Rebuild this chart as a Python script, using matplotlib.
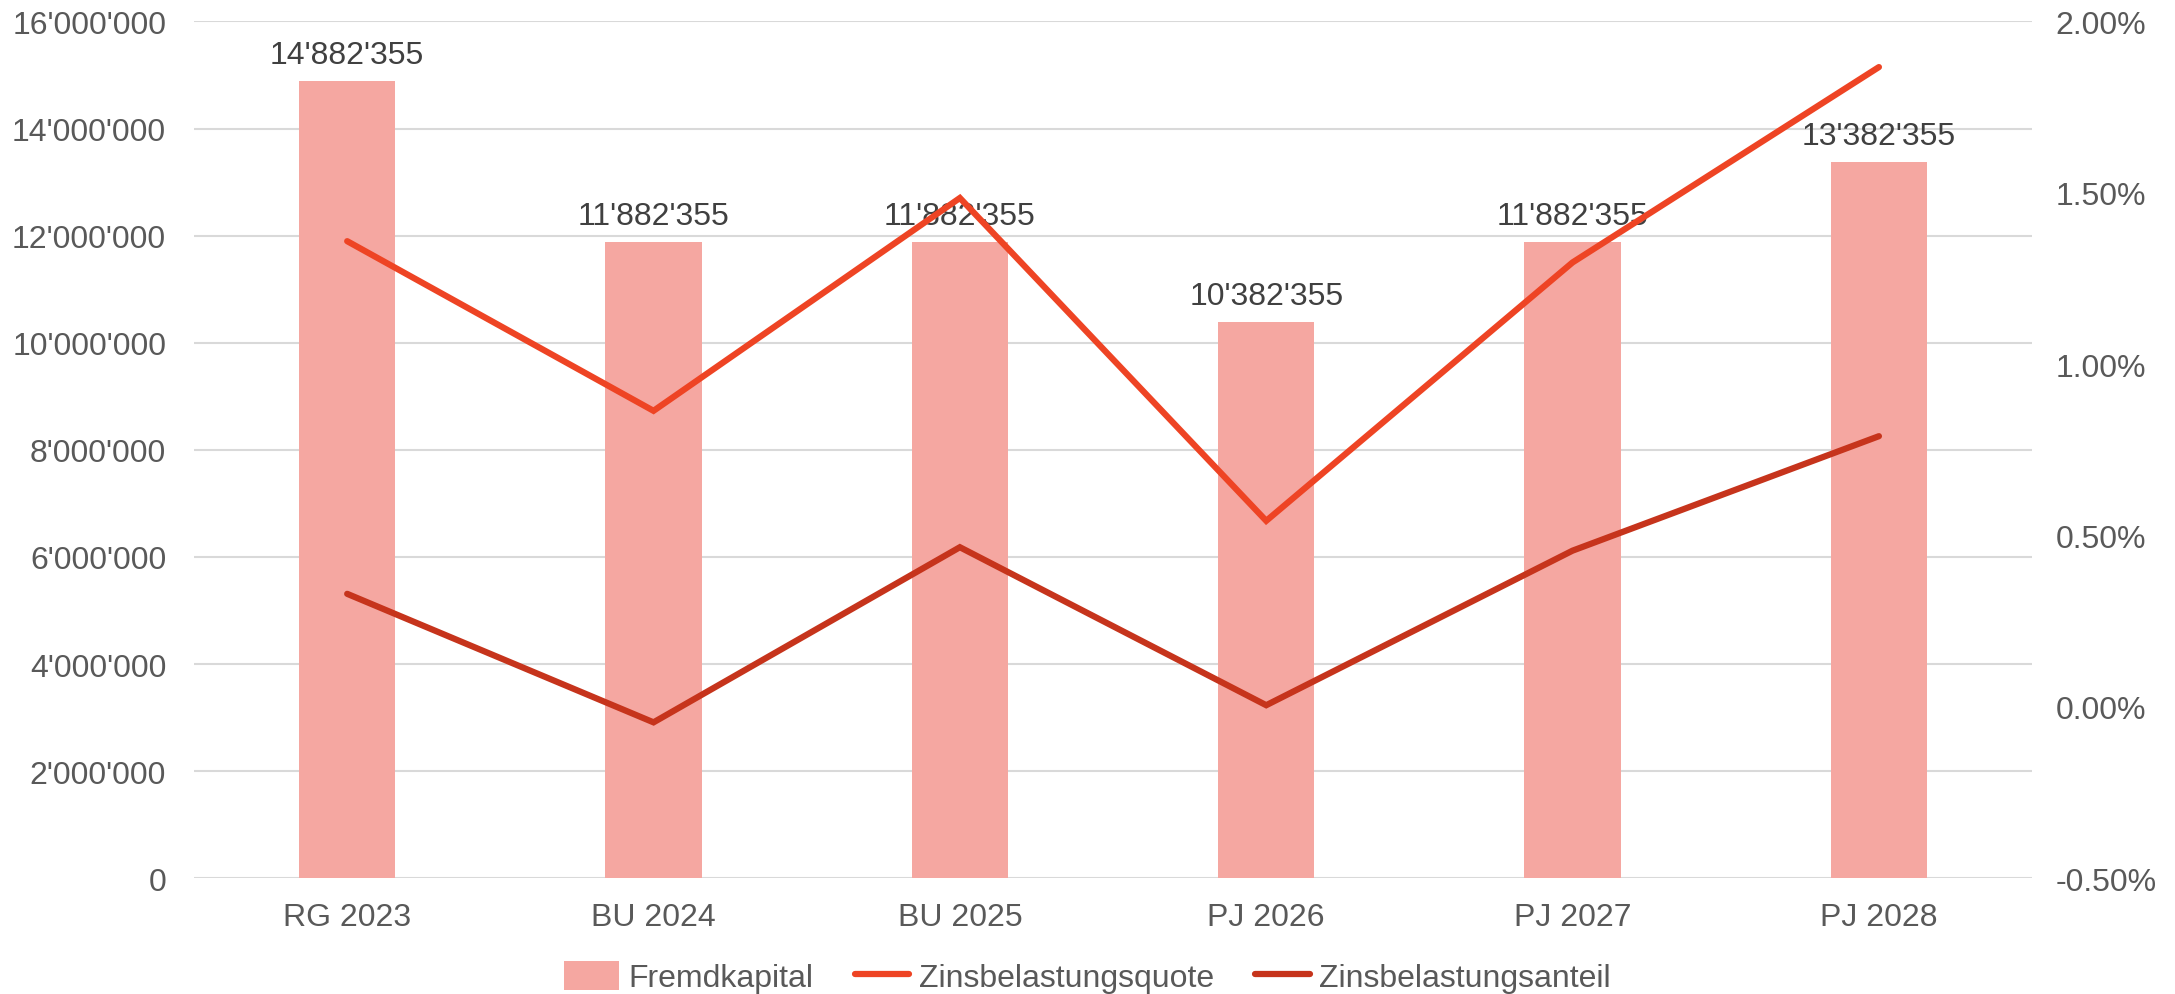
import matplotlib
matplotlib.use("Agg")
import matplotlib.pyplot as plt
from matplotlib.ticker import FuncFormatter, MultipleLocator

categories = ["RG 2023", "BU 2024", "BU 2025", "PJ 2026", "PJ 2027", "PJ 2028"]
fremdkapital = [14882355, 11882355, 11882355, 10382355, 11882355, 13382355]
zins_quote = [1.359, 0.864, 1.485, 0.543, 1.297, 1.867]      # percent
zins_anteil = [0.330, -0.045, 0.466, 0.005, 0.456, 0.790]    # percent

BAR_COLOR = "#F5A7A1"
QUOTE_COLOR = "#EE4424"
ANTEIL_COLOR = "#C6341C"
TEXT_COLOR = "#595959"
LABEL_COLOR = "#404040"
GRID_COLOR = "#D9D9D9"
FS = 23


def swiss(v):
    return f"{v:,.0f}".replace(",", "'")


plt.rcParams['font.family'] = ['Liberation Sans', 'DejaVu Sans']
plt.rcParams['font.size'] = FS

fig = plt.figure(figsize=(21.75, 9.95), dpi=100)
ax = fig.add_axes([0.0892, 0.1163, 0.9343 - 0.0892, 0.9774 - 0.1163])
ax2 = ax.twinx()

x = list(range(len(categories)))
bars = ax.bar(x, fremdkapital, width=0.315, color=BAR_COLOR, zorder=2, label="Fremdkapital")
for xi, v in zip(x, fremdkapital):
    ax.annotate(swiss(v), (xi, v), xytext=(0, 8), textcoords="offset points",
                ha="center", va="bottom", color=LABEL_COLOR, fontsize=FS)

ax.set_xlim(-0.5, len(categories) - 0.5)
ax.set_ylim(0, 16000000)
ax.yaxis.set_major_locator(MultipleLocator(2000000))
ax.yaxis.set_major_formatter(FuncFormatter(lambda v, p: swiss(v)))
ax.set_xticks(x)
ax.set_xticklabels(categories)
ax.grid(axis="y", color=GRID_COLOR, linewidth=1.5, zorder=0)
ax.set_axisbelow(True)

l1, = ax2.plot(x, zins_quote, color=QUOTE_COLOR, lw=4.5, solid_capstyle="round",
               solid_joinstyle="miter", label="Zinsbelastungsquote", zorder=3)
l2, = ax2.plot(x, zins_anteil, color=ANTEIL_COLOR, lw=4.5, solid_capstyle="round",
               solid_joinstyle="miter", label="Zinsbelastungsanteil", zorder=3)
ax2.set_ylim(-0.5, 2.0)
ax2.yaxis.set_major_locator(MultipleLocator(0.5))
ax2.yaxis.set_major_formatter(FuncFormatter(lambda v, p: f"{v:.2f}%"))

for a in (ax, ax2):
    for s in a.spines.values():
        s.set_visible(False)
    a.tick_params(length=0, colors=TEXT_COLOR, labelsize=FS)
ax.tick_params(axis="y", pad=20)
ax.tick_params(axis="x", pad=17)
ax2.tick_params(axis="y", pad=17)

fig.legend(handles=[bars, l1, l2], loc="center", bbox_to_anchor=(0.5, 0.017),
           ncol=3, frameon=False, fontsize=FS, labelcolor=TEXT_COLOR,
           handlelength=1.7, handleheight=1.0, handletextpad=0.3, columnspacing=1.3)

fig.savefig("out.png", dpi=100)
